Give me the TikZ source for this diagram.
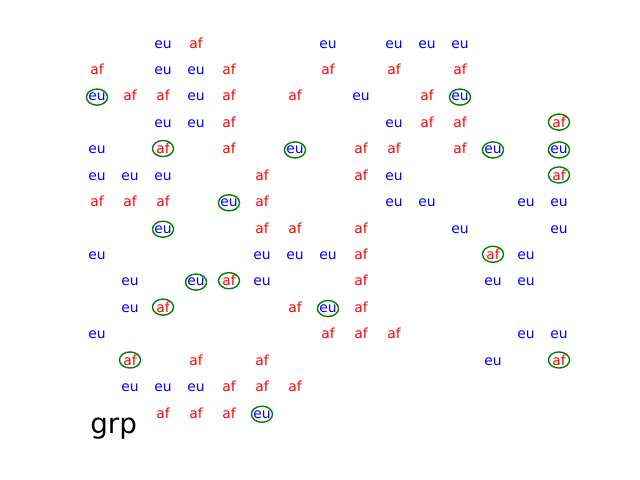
\documentclass[tikz,border=0pt]{standalone}
\usepackage{fontspec}
\setmainfont{DejaVu Sans}
\definecolor{mplgreen}{HTML}{008000}
\tikzset{
  lab/.style={inner sep=0pt, anchor=base, font=\fontsize{10}{12}\selectfont},
  labeu/.style={text=blue},
  labaf/.style={text=red},
  ring/.style={draw=mplgreen, line width=1pt},
  title/.style={inner sep=0pt, anchor=base west, font=\fontsize{20}{24}\selectfont, text=black}
}
\begin{document}
\begin{tikzpicture}[x=0.72pt, y=-0.72pt]
\useasboundingbox (0,0) rectangle (640,480);
\foreach \r/\c/\t/\m in {
 0/2/eu/0, 0/3/af/0, 0/7/eu/0, 0/9/eu/0, 0/10/eu/0, 0/11/eu/0,
 1/0/af/0, 1/2/eu/0, 1/3/eu/0, 1/4/af/0, 1/7/af/0, 1/9/af/0, 1/11/af/0,
 2/0/eu/1, 2/1/af/0, 2/2/af/0, 2/3/eu/0, 2/4/af/0, 2/6/af/0, 2/8/eu/0, 2/10/af/0, 2/11/eu/1,
 3/2/eu/0, 3/3/eu/0, 3/4/af/0, 3/9/eu/0, 3/10/af/0, 3/11/af/0, 3/14/af/1,
 4/0/eu/0, 4/2/af/1, 4/4/af/0, 4/6/eu/1, 4/8/af/0, 4/9/af/0, 4/11/af/0, 4/12/eu/1, 4/14/eu/1,
 5/0/eu/0, 5/1/eu/0, 5/2/eu/0, 5/5/af/0, 5/8/af/0, 5/9/eu/0, 5/14/af/1,
 6/0/af/0, 6/1/af/0, 6/2/af/0, 6/4/eu/1, 6/5/af/0, 6/9/eu/0, 6/10/eu/0, 6/13/eu/0, 6/14/eu/0,
 7/2/eu/1, 7/5/af/0, 7/6/af/0, 7/8/af/0, 7/11/eu/0, 7/14/eu/0,
 8/0/eu/0, 8/5/eu/0, 8/6/eu/0, 8/7/eu/0, 8/8/af/0, 8/12/af/1, 8/13/eu/0,
 9/1/eu/0, 9/3/eu/1, 9/4/af/1, 9/5/eu/0, 9/8/af/0, 9/12/eu/0, 9/13/eu/0,
 10/1/eu/0, 10/2/af/1, 10/6/af/0, 10/7/eu/1, 10/8/af/0,
 11/0/eu/0, 11/7/af/0, 11/8/af/0, 11/9/af/0, 11/13/eu/0, 11/14/eu/0,
 12/1/af/1, 12/3/af/0, 12/5/af/0, 12/12/eu/0, 12/14/af/1,
 13/1/eu/0, 13/2/eu/0, 13/3/eu/0, 13/4/af/0, 13/5/af/0, 13/6/af/0,
 14/2/af/0, 14/3/af/0, 14/4/af/0, 14/5/eu/1}
{
  \node[lab, lab\t] (n\r-\c) at ({97+33*\c}, {48+26.43*\r}) {\t};
  \ifnum\m=1
    \draw[ring] (n\r-\c.center) ellipse [x radius=7.6pt, y radius=5.8pt];
  \fi
}
\node[title] (grp) at (90,433) {grp};
\end{tikzpicture}
\end{document}
